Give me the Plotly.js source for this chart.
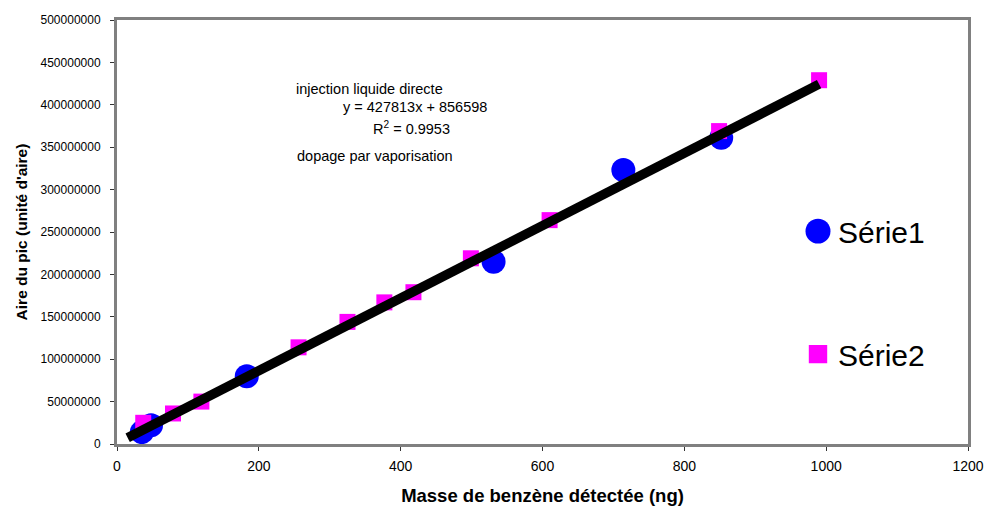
<!DOCTYPE html>
<html>
<head>
<meta charset="utf-8">
<script src="https://cdn.plot.ly/plotly-3.0.1.min.js"></script>
<style>html,body{margin:0;padding:0;background:#fff;}#chart{width:984px;height:506px;}</style>
</head>
<body>
<div id="chart"></div>
<script>
// Série1 (blue circles)
const serie1X = [35, 48, 183, 531, 714, 852];
const serie1Y = [14000000, 22000000, 80000000, 215000000, 323000000, 361000000];
// Série2 (magenta squares)
const serie2X = [37, 79, 119, 256, 325, 377, 418, 499, 610, 849, 990];
const serie2Y = [25000000, 36000000, 50000000, 114000000, 144000000, 167000000, 179000000, 219000000, 264000000, 369000000, 429000000];
// Trendline endpoints (y = 427813x + 856598)
const trendX = [15, 990];
const trendY = [7273793, 424391468];

const font = "Liberation Sans, Arial, sans-serif";

const trend = {x: trendX, y: trendY, mode: 'lines', line: {color: '#000000', width: 9.5}, showlegend: false, hoverinfo: 'skip'};
const traces = [
  {x: serie1X, y: serie1Y, mode: 'markers', name: 'Série1', legendgroup: 'a',
   marker: {symbol: 'circle', size: 24, color: '#0000FF'}},
  {x: serie2X, y: serie2Y, mode: 'markers', name: 'Série2', legendgroup: 'b',
   marker: {symbol: 'square', size: 16, color: '#FF00FF'}},
  trend
];

const layout = {
  width: 984, height: 506,
  margin: {l: 117, r: 16, t: 20, b: 62},
  paper_bgcolor: '#ffffff', plot_bgcolor: '#ffffff',
  font: {family: font, color: '#000000', size: 12},
  showlegend: true,
  legend: {x: (798-117)/851, y: 0.357, xanchor: 'left', yanchor: 'middle', bgcolor: 'rgba(0,0,0,0)',
           font: {size: 30, family: font}, tracegroupgap: 81, itemsizing: 'trace'},
  xaxis: {range: [0, 1200], dtick: 200, tick0: 0, showgrid: false, zeroline: false,
          showline: true, mirror: true, linecolor: '#808080', linewidth: 3,
          ticks: 'outside', ticklen: 4, tickcolor: '#333', tickfont: {size: 14}, ticklabelstandoff: 3,
          title: {text: '<b>Masse de benzène détectée (ng)</b>', font: {size: 18.5}, standoff: 18}},
  yaxis: {range: [0, 500000000], dtick: 50000000, tick0: 0, tickformat: 'd', showgrid: false, zeroline: false,
          showline: true, mirror: true, linecolor: '#808080', linewidth: 3,
          ticks: 'outside', ticklen: 4, tickcolor: '#333', tickfont: {size: 12}, ticklabelstandoff: 7,
          title: {text: '<b>Aire du pic (unité d\'aire)</b>', font: {size: 15.5}, standoff: 10}},
  annotations: [
    {xref: 'paper', yref: 'paper', x: (294-117)/851, y: (444-89)/424, xanchor: 'left', yanchor: 'middle',
     text: 'injection liquide directe', showarrow: false, font: {size: 14.5}},
    {xref: 'paper', yref: 'paper', x: (489-117)/851, y: (444-107)/424, xanchor: 'right', yanchor: 'middle',
     text: 'y = 427813x + 856598', showarrow: false, font: {size: 14.5}},
    {xref: 'paper', yref: 'paper', x: (371-117)/851, y: (444-128)/424, xanchor: 'left', yanchor: 'middle',
     text: 'R<sup>2</sup> = 0.9953', showarrow: false, font: {size: 14.5}},
    {xref: 'paper', yref: 'paper', x: (295-117)/851, y: (444-156)/424, xanchor: 'left', yanchor: 'middle',
     text: 'dopage par vaporisation', showarrow: false, font: {size: 14.5}}
  ]
};
Plotly.newPlot('chart', traces, layout, {displayModeBar: false, staticPlot: true}).then(function(gd){
  // enlarge legend symbols to match the reference sizes
  const pts = gd.querySelectorAll('.legend .legendpoints path.scatterpts');
  pts.forEach(function(p, i){
    p.setAttribute('transform', (p.getAttribute('transform') || '') + (i === 0 ? ' scale(1.56)' : ' scale(1.15)'));
  });
});
</script>
</body>
</html>
